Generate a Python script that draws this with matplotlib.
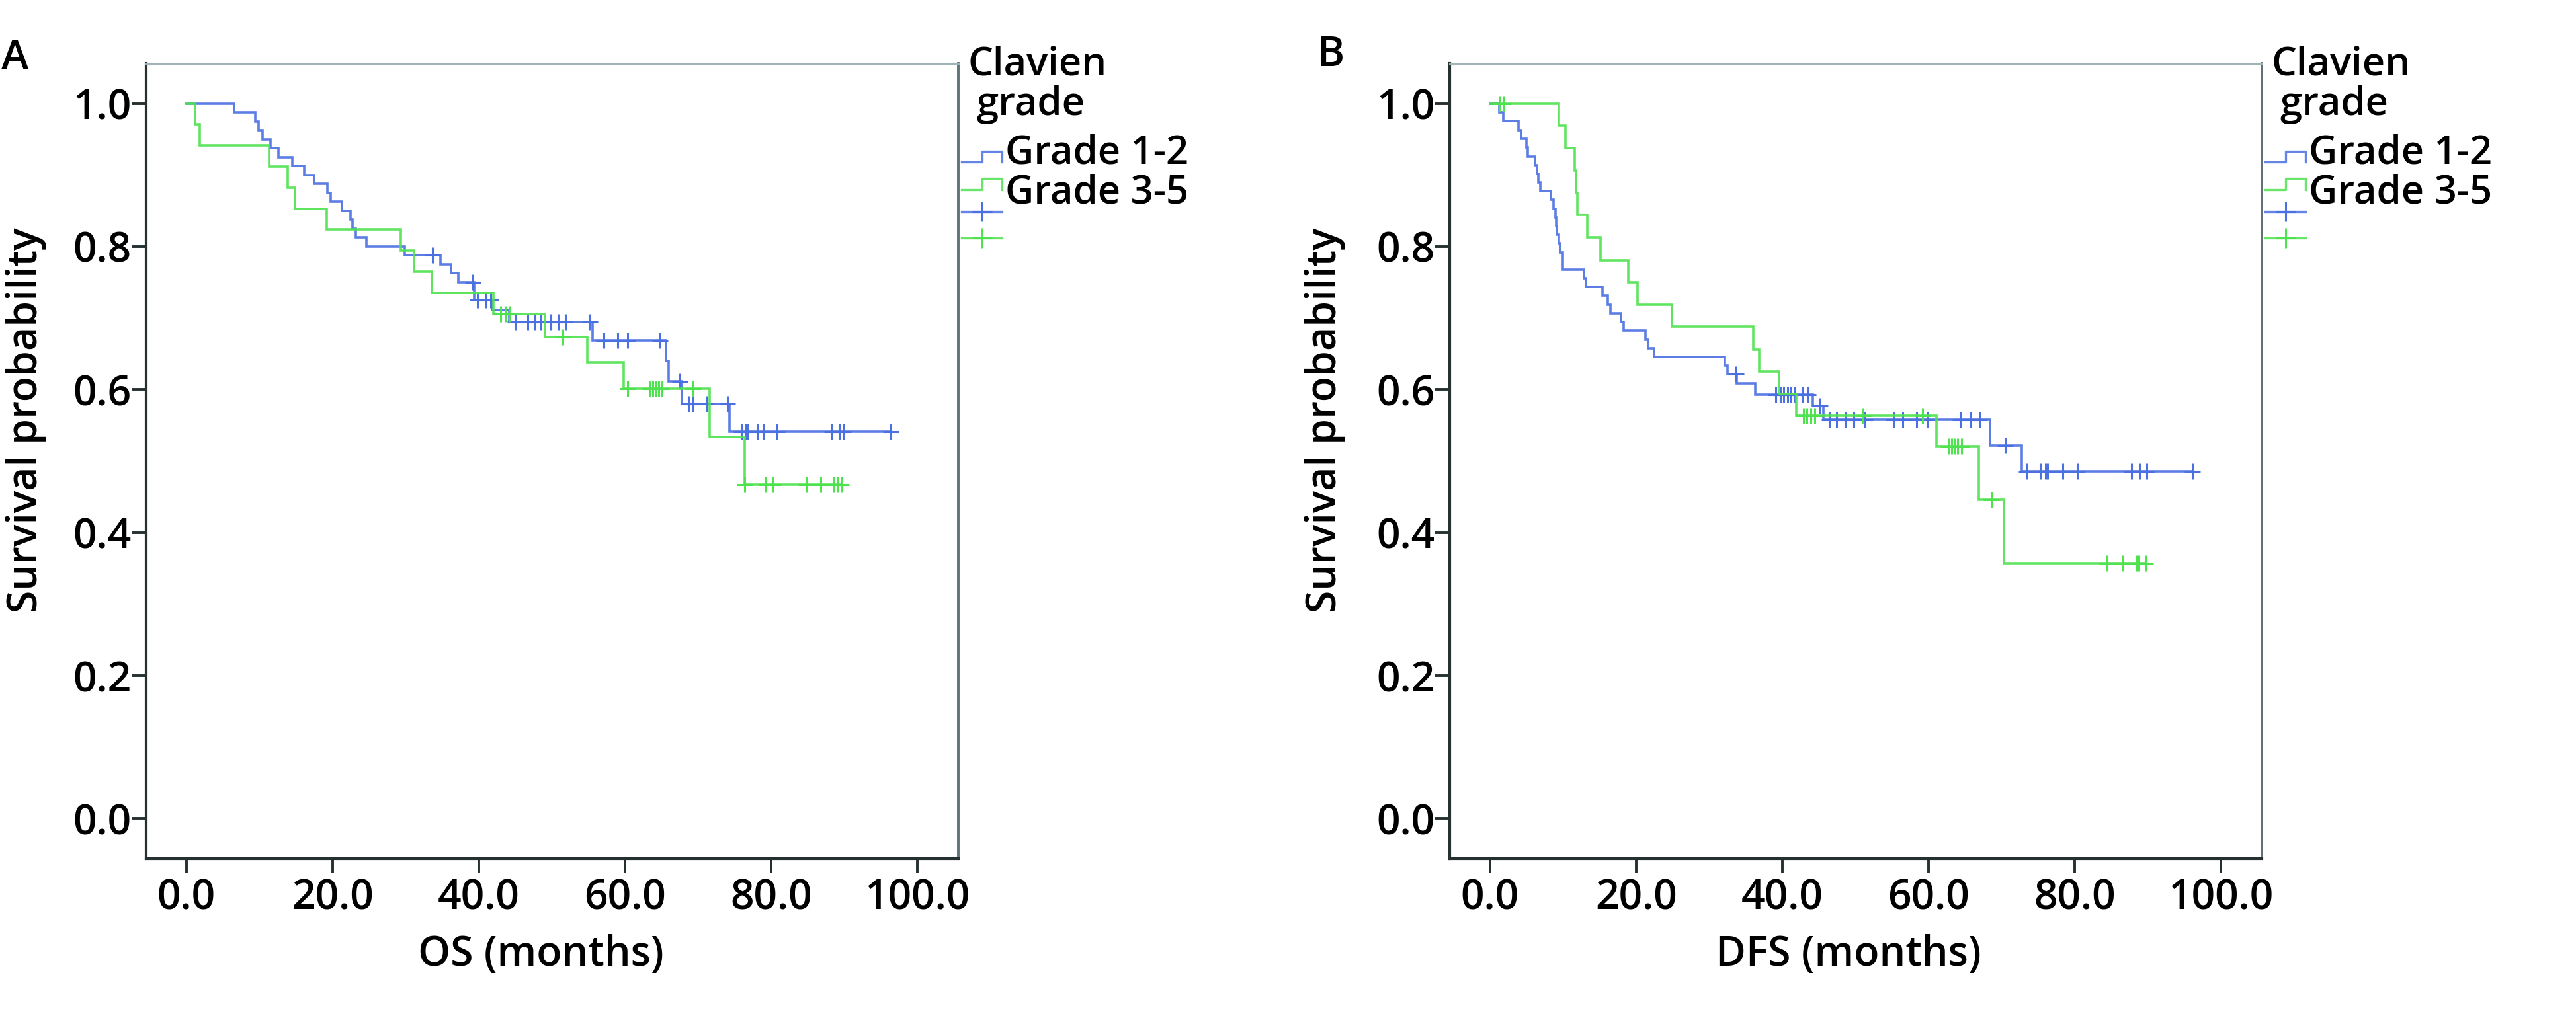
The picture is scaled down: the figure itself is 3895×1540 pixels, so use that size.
import numpy as np
import matplotlib
matplotlib.use("Agg")
import matplotlib.pyplot as plt
from matplotlib.lines import Line2D

plt.rcParams['font.family'] = ['Open Sans', 'DejaVu Sans']
plt.rcParams['font.weight'] = 'semibold'

# ---- data ----
group_labels = ["Grade 1-2", "Grade 3-5"]
legend_title = ["Clavien", "grade"]

# OS, Grade 1-2: event times and survival after each drop
os_g12_t = [0, 6.5, 9.4, 9.9, 10.4, 11.5, 12.6, 14.5, 16.1, 17.5, 19.3, 19.7, 21.3, 22.5,
            22.7, 23.2, 24.6, 29.9, 34.8, 36.2, 37.2, 39.4, 41.8, 44.2, 55.6, 65.6, 66.0,
            67.8, 74.3]
os_g12_s = [1.0, 0.988, 0.975, 0.963, 0.950, 0.938, 0.925, 0.913, 0.900, 0.888, 0.875, 0.863,
            0.850, 0.838, 0.825, 0.813, 0.800, 0.788, 0.775, 0.763, 0.750, 0.725, 0.711, 0.695,
            0.669, 0.640, 0.611, 0.580, 0.541]
os_g12_cens = [33.7, 39.2, 39.8, 41.0, 41.6, 45.0, 46.7, 47.7, 48.5, 49.9, 50.9, 51.9, 55.2,
               57.1, 59.0, 60.4, 64.8, 67.5, 68.7, 69.3, 71.1, 74.0, 75.9, 76.5, 76.8, 78.1,
               78.9, 80.8, 88.3, 89.3, 89.9, 96.4]

# OS, Grade 3-5
os_g35_t = [0, 1.2, 1.8, 11.3, 13.9, 14.9, 19.2, 29.3, 31.1, 33.6, 42.0, 49.1, 54.8, 59.8,
            71.6, 76.4]
os_g35_s = [1.0, 0.971, 0.941, 0.912, 0.882, 0.853, 0.824, 0.794, 0.765, 0.735, 0.706, 0.673,
            0.638, 0.601, 0.534, 0.467]
os_g35_cens = [43.0, 43.6, 44.2, 51.5, 60.4, 63.4, 63.8, 64.2, 64.6, 65.0, 69.3, 76.4, 79.3,
               80.3, 84.8, 86.8, 88.6, 89.1, 89.6]

# DFS, Grade 1-2
dfs_g12_t = [0, 1.3, 1.8, 3.9, 4.3, 5.0, 5.2, 6.2, 6.4, 6.6, 6.9, 8.3, 8.7, 9.0, 9.1, 9.2,
             9.4, 9.6, 10.0, 12.9, 13.1, 15.4, 16.1, 16.5, 17.9, 18.3, 21.3, 21.6, 22.5,
             32.1, 32.5, 33.8, 36.3, 44.2, 45.6, 68.4, 72.8]
dfs_g12_s = [1.0, 0.988, 0.976, 0.963, 0.951, 0.939, 0.926, 0.914, 0.902, 0.890, 0.878, 0.866,
             0.853, 0.841, 0.829, 0.817, 0.805, 0.792, 0.768, 0.756, 0.744, 0.732, 0.719, 0.707,
             0.695, 0.683, 0.670, 0.658, 0.646, 0.634, 0.622, 0.609, 0.593, 0.577, 0.558,
             0.522, 0.486]
dfs_g12_cens = [33.7, 39.1, 39.7, 40.2, 40.7, 41.2, 41.7, 42.7, 43.5, 45.2, 46.4, 47.4, 48.6,
                49.8, 51.3, 55.2, 56.5, 58.4, 59.8, 64.3, 65.7, 67.0, 70.5, 73.4, 75.3, 76.0,
                76.3, 78.4, 80.4, 87.8, 88.9, 89.9, 96.1]

# DFS, Grade 3-5
dfs_g35_t = [0, 9.4, 10.3, 11.6, 11.8, 12.0, 13.3, 15.1, 18.9, 20.2, 24.9, 36.0, 36.8, 39.6,
             41.9, 61.1, 66.9, 70.3]
dfs_g35_s = [1.0, 0.969, 0.938, 0.906, 0.875, 0.844, 0.813, 0.781, 0.750, 0.719, 0.688, 0.656,
             0.625, 0.594, 0.563, 0.521, 0.446, 0.357]
dfs_g35_cens = [1.4, 1.8, 42.9, 43.4, 43.9, 44.4, 51.0, 59.2, 62.7, 63.2, 63.6, 64.0, 64.5,
                68.6, 84.4, 86.5, 88.4, 88.8, 89.7]

x_ticks = [0, 20, 40, 60, 80, 100]
y_ticks = [0.0, 0.2, 0.4, 0.6, 0.8, 1.0]

blue = '#4a70e2'
green = '#4fe24f'
dark = '#263030'
FS = 45
LFS = 43

W, H = 3895, 1540
fig = plt.figure(figsize=(W / 100, H / 100), dpi=100)


def fx(x):
    return x / W


def fy(y):
    return 1 - y / H


def km(ax, t, s, cens, color):
    t = np.asarray(t, float)
    s = np.asarray(s, float)
    cens = np.asarray(cens, float)
    end = max(cens.max(), t[-1])
    ax.step(np.append(t, end), np.append(s, s[-1]), where='post', color=color, lw=2.6,
            alpha=0.9, solid_joinstyle='miter')
    idx = np.searchsorted(t, cens, side='right') - 1
    ax.plot(cens, s[idx], ls='none', marker='+', ms=17, mew=2.2, color=color)


def panel(left, curves, xlabel, xlabel_cx, ylabel_cx, letter, letter_x, letter_base):
    ax = fig.add_axes([fx(left), fy(1299), fx(1228), (1299 - 96) / H])
    for t, s, c, col in curves:
        km(ax, t, s, c, col)
    ax.set_xlim(-5.5, 105.6)
    ax.set_ylim(-0.056, 1.056)
    ax.set_xticks(x_ticks)
    ax.set_xticklabels([f"{v:.1f}" for v in x_ticks])
    ax.set_yticks(y_ticks)
    ax.set_yticklabels([f"{v:.1f}" for v in y_ticks])
    ax.tick_params(direction='out', length=15.5, width=2.8, color=dark, labelsize=FS)
    ax.tick_params(axis='y', pad=0.5)
    ax.tick_params(axis='x', pad=5)
    for side in ['left', 'bottom']:
        ax.spines[side].set_color(dark)
        ax.spines[side].set_linewidth(3)
    ax.spines['top'].set_color('#a0b3b7')
    ax.spines['top'].set_linewidth(2.2)
    ax.spines['right'].set_color('#5f7377')
    ax.spines['right'].set_linewidth(2.8)

    fig.text(fx(xlabel_cx), fy(1461), xlabel, ha='center', va='baseline', fontsize=FS)
    fig.text(fx(ylabel_cx), fy(636), "Survival probability", ha='center', va='center',
             rotation=90, fontsize=FS)
    fig.text(fx(letter_x), fy(letter_base), letter, ha='left', va='baseline', fontsize=FS)

    # legend, drawn next to the right spine
    r = left + 1228
    fig.text(fx(r + 14), fy(113), legend_title[0], ha='left', va='baseline', fontsize=LFS)
    fig.text(fx(r + 27), fy(174), legend_title[1], ha='left', va='baseline', fontsize=LFS)
    a, m, b = r + 5, r + 36, r + 66
    for lab, col, lo, hi, base in [(group_labels[0], blue, 245, 229, 248),
                                   (group_labels[1], green, 287, 270, 308)]:
        fig.add_artist(Line2D([fx(a), fx(m), fx(m), fx(b), fx(b)],
                              [fy(lo), fy(lo), fy(hi), fy(hi), fy(lo)],
                              color=col, lw=2.4, alpha=0.85, transform=fig.transFigure))
        fig.text(fx(r + 71), fy(base), lab, ha='left', va='baseline', fontsize=LFS)
    for col, yy in [(blue, 320), (green, 360)]:
        fig.add_artist(Line2D([fx(a), fx(b)], [fy(yy), fy(yy)], color=col, lw=2.4,
                              alpha=0.85, transform=fig.transFigure))
        fig.add_artist(Line2D([fx(m)], [fy(yy)], ls='none', marker='+', ms=22, mew=2.2,
                              color=col, transform=fig.transFigure))
    return ax


panel(221, [(os_g12_t, os_g12_s, os_g12_cens, blue),
            (os_g35_t, os_g35_s, os_g35_cens, green)],
      "OS (months)", 818, 40, "A", 2, 105)
panel(2192, [(dfs_g12_t, dfs_g12_s, dfs_g12_cens, blue),
             (dfs_g35_t, dfs_g35_s, dfs_g35_cens, green)],
      "DFS (months)", 2795, 2003, "B", 1991, 100)

fig.savefig('out.png', dpi=100)
